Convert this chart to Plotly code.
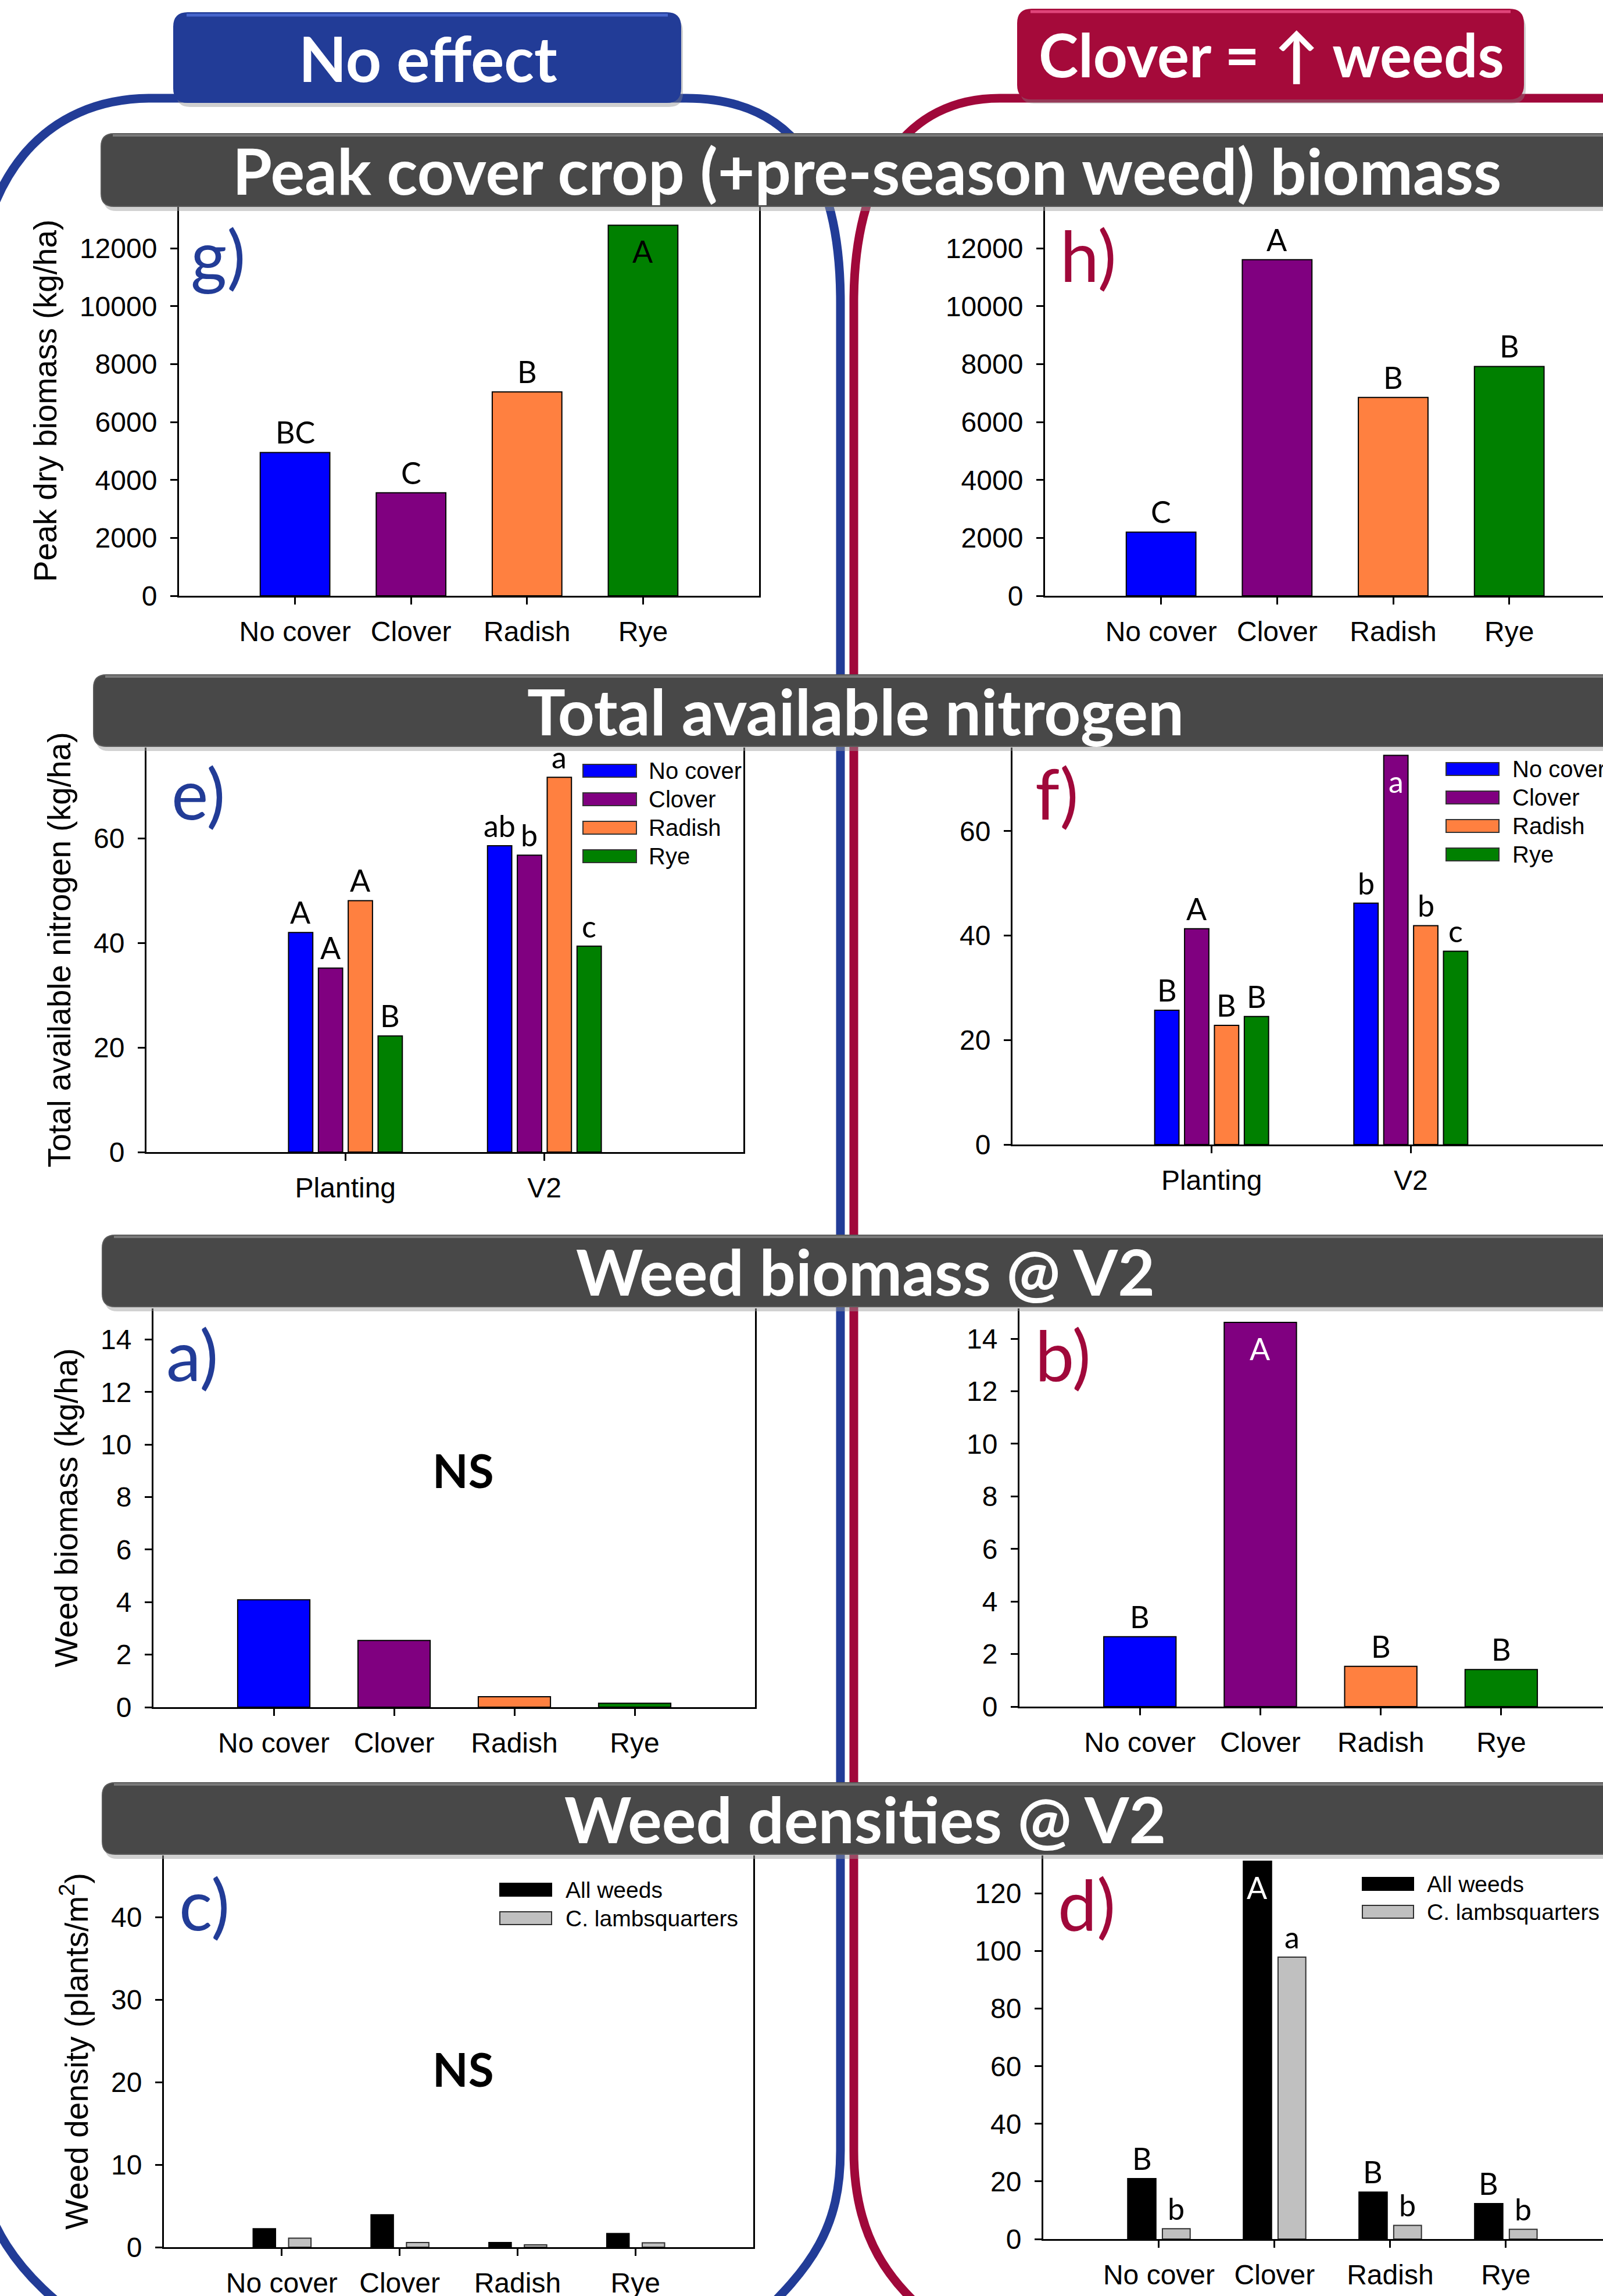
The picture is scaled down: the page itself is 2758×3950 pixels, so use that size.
import plotly.graph_objects as go

# ---------------- data ----------------
covers = ["No cover", "Clover", "Radish", "Rye"]
cover_colors = ["#0000FF", "#800080", "#FF8040", "#008000"]
timings = ["Planting", "V2"]

# g) / h) peak cover crop (+pre-season weed) biomass, kg/ha
peak_g = [4950, 3560, 7040, 12800]
peak_g_letters = ["BC", "C", "B", "A"]
peak_h = [2200, 11610, 6850, 7920]
peak_h_letters = ["C", "A", "B", "B"]

# e) / f) total available nitrogen, kg/ha (one value per cover crop)
nitro_e_planting = [42.0, 35.2, 48.1, 22.2]
nitro_e_v2 = [58.6, 56.8, 71.7, 39.4]
nitro_e_planting_letters = ["A", "A", "A", "B"]
nitro_e_v2_letters = ["ab", "b", "a", "c"]
nitro_f_planting = [25.7, 41.3, 22.8, 24.5]
nitro_f_v2 = [46.2, 74.5, 41.9, 37.0]
nitro_f_planting_letters = ["B", "A", "B", "B"]
nitro_f_v2_letters = ["b", "a", "b", "c"]

# a) / b) weed biomass at V2, kg/ha
weedbio_a = [4.09, 2.54, 0.40, 0.15]
weedbio_b = [2.66, 14.62, 1.53, 1.41]
weedbio_b_letters = ["B", "A", "B", "B"]

# c) / d) weed densities at V2, plants/m2
dens_series = ["All weeds", "C. lambsquarters"]
dens_colors = ["#000000", "#C0C0C0"]
dens_c_all = [2.23, 3.93, 0.57, 1.66]
dens_c_lamb = [1.09, 0.57, 0.28, 0.53]
dens_d_all = [20.97, 131.2, 16.3, 12.3]
dens_d_lamb = [3.6, 97.9, 4.75, 3.36]
dens_d_all_letters = ["B", "A", "B", "B"]
dens_d_lamb_letters = ["b", "a", "b", "b"]

section_titles = ["Peak cover crop (+pre-season weed) biomass", "Total available nitrogen",
                  "Weed biomass @ V2", "Weed densities @ V2"]

# ---------------- style / layout ----------------
W, H = 2758, 3950
BLUE = "#223C97"
CRIMSON = "#A0083A"
BAR_GREY = "#484848"
AXFONT = "Liberation Sans, Arial, sans-serif"
TFONT = "Lato, Open Sans, sans-serif"
TICKFONT = dict(family=AXFONT, size=48, color="black")


def fx(px):
    return px / W


def fy(py):
    return 1 - py / H


def sfx(n):
    return "" if n == 1 else str(n)


fig = go.Figure()
layout = dict(width=W, height=H, margin=dict(l=0, r=0, t=0, b=0, autoexpand=False),
              paper_bgcolor="white", plot_bgcolor="rgba(0,0,0,0)",
              showlegend=False, barmode="overlay")
shapes, anns = [], []

# panel boxes in page pixels: (x0, x1, ytop, ybottom)
panels = {
    "g": dict(n=1, box=(308, 1306, 354, 1025), xr=[-1, 4], yr=[0, 13470], dtick=2000, left=True,
              ytitle="Peak dry biomass (kg/ha)"),
    "h": dict(n=2, box=(1798, 2758, 354, 1025), xr=[-1, 3.808], yr=[0, 13470], dtick=2000, left=False),
    "e": dict(n=3, box=(252, 1279, 1286, 1982), xr=[-1, 2], yr=[0, 77.4], dtick=20, left=True,
              ytitle="Total available nitrogen (kg/ha)"),
    "f": dict(n=4, box=(1742, 2758, 1286, 1969), xr=[-1, 1.965], yr=[0, 76.0], dtick=20, left=False),
    "a": dict(n=5, box=(264, 1299, 2251, 2937), xr=[-1, 4], yr=[0, 15.18], dtick=2, left=True,
              ytitle="Weed biomass (kg/ha)"),
    "b": dict(n=6, box=(1754, 2758, 2251, 2936), xr=[-1, 3.845], yr=[0, 15.15], dtick=2, left=False),
    "c": dict(n=7, box=(282, 1296, 3192, 3866), xr=[-1, 4], yr=[0, 47.5], dtick=10, left=True,
              ytitle="Weed density (plants/m<sup>2</sup>)"),
    "d": dict(n=8, box=(1795, 2758, 3192, 3852), xr=[-1, 3.84], yr=[0, 133.2], dtick=20, left=False),
}

for key, p in panels.items():
    s = sfx(p["n"])
    x0, x1, yt, yb = p["box"]
    layout["xaxis" + s] = dict(domain=[fx(x0), fx(x1)], range=p["xr"], type="category", anchor="y" + s,
                               showline=True, linecolor="black", linewidth=3, ticks="outside",
                               ticklen=12, tickwidth=2.5, tickcolor="black", tickfont=TICKFONT,
                               showgrid=False, zeroline=False, ticklabelstandoff=5, fixedrange=True,
                               automargin=False)
    ya = dict(domain=[fy(yb), fy(yt)], range=p["yr"], anchor="x" + s, dtick=p["dtick"], tick0=0,
              tickformat="d", showline=True, linecolor="black", linewidth=3, ticks="outside", ticklen=12,
              tickwidth=2.5, tickcolor="black", tickfont=TICKFONT, showgrid=False, zeroline=False,
              mirror=p["left"], ticklabelstandoff=13, fixedrange=True, automargin=False)
    if p.get("ytitle"):
        ya["title"] = dict(text=p["ytitle"], font=dict(family=AXFONT, size=55, color="black"), standoff=22)
    layout["yaxis" + s] = ya


def add_letter(n, xpos, val, text, ymax, inside_color="white"):
    s = sfx(n)
    inside = val > 0.94 * ymax
    anns.append(dict(xref="x" + s, yref="y" + s, x=xpos, y=val, text=text, showarrow=False,
                     xanchor="center", yanchor="top" if inside else "bottom",
                     yshift=-12 if inside else 2,
                     font=dict(family=TFONT, size=52, color=inside_color if inside else "black")))


def single_panel(key, values, letters, inside_color="white", name=""):
    p = panels[key]
    s = sfx(p["n"])
    fig.add_trace(go.Bar(x=covers, y=values, width=0.6, name=name, xaxis="x" + s, yaxis="y" + s,
                         marker=dict(color=cover_colors, line=dict(color="black", width=2))))
    if letters:
        for i, (v, t) in enumerate(zip(values, letters)):
            add_letter(p["n"], i, v, t, p["yr"][1], inside_color)


single_panel("g", peak_g, peak_g_letters, inside_color="black", name="Peak biomass")
single_panel("h", peak_h, peak_h_letters, name="Peak biomass")
single_panel("a", weedbio_a, None, name="Weed biomass")
single_panel("b", weedbio_b, weedbio_b_letters, name="Weed biomass")

# nitrogen grouped bars
N_WIDTH, N_SLOT, N_START = 0.122, 0.15, -0.286
for key, plant, v2, lp, lv in [("e", nitro_e_planting, nitro_e_v2, nitro_e_planting_letters, nitro_e_v2_letters),
                               ("f", nitro_f_planting, nitro_f_v2, nitro_f_planting_letters, nitro_f_v2_letters)]:
    p = panels[key]
    s = sfx(p["n"])
    for i, cov in enumerate(covers):
        off = N_START + i * N_SLOT
        yv = [plant[i], v2[i]]
        fig.add_trace(go.Bar(x=timings, y=yv, name=cov, offset=off, width=N_WIDTH,
                             xaxis="x" + s, yaxis="y" + s,
                             marker=dict(color=cover_colors[i], line=dict(color="black", width=2))))
        for j, t in enumerate([lp[i], lv[i]]):
            add_letter(p["n"], j + off + N_WIDTH / 2, yv[j], t, p["yr"][1])

# density grouped bars
for key, alls, lambs, la, ll, geo in [
        ("c", dens_c_all, dens_c_lamb, None, None, ((-0.243, 0.19), (0.058, 0.19))),
        ("d", dens_d_all, dens_d_lamb, dens_d_all_letters, dens_d_lamb_letters, ((-0.27, 0.244), (0.03, 0.24)))]:
    p = panels[key]
    s = sfx(p["n"])
    for k, (vals, lets) in enumerate([(alls, la), (lambs, ll)]):
        off, wd = geo[k]
        fig.add_trace(go.Bar(x=covers, y=vals, name=dens_series[k], offset=off, width=wd,
                             xaxis="x" + s, yaxis="y" + s,
                             marker=dict(color=dens_colors[k],
                                         line=dict(color="black" if k == 0 else "#303030", width=2))))
        if lets:
            for i, (v, t) in enumerate(zip(vals, lets)):
                add_letter(p["n"], i + off + wd / 2, v, t, p["yr"][1])


# ---------------- decorations ----------------
def pt(x, y):
    return f"{fx(x):.5f},{fy(y):.5f}"


# bracket frames
blue_path = ("M " + pt(150, 4000) + " C " + pt(40, 3920) + " " + pt(-45, 3830) + " " + pt(-45, 3650) +
             " L " + pt(-45, 560) + " C " + pt(-45, 300) + " " + pt(80, 169) + " " + pt(260, 169) +
             " L " + pt(1180, 169) + " C " + pt(1370, 169) + " " + pt(1446, 300) + " " + pt(1446, 520) +
             " L " + pt(1446, 3700) + " C " + pt(1446, 3830) + " " + pt(1400, 3900) + " " + pt(1290, 4000))
crim_path = ("M " + pt(2820, 169) + " L " + pt(1720, 169) + " C " + pt(1560, 169) + " " + pt(1469, 300) +
             " " + pt(1469, 520) + " L " + pt(1469, 3700) + " C " + pt(1469, 3850) + " " + pt(1530, 3930) +
             " " + pt(1620, 4000))
shapes.append(dict(type="path", xref="paper", yref="paper", path=blue_path,
                   line=dict(color=BLUE, width=15), layer="above"))
shapes.append(dict(type="path", xref="paper", yref="paper", path=crim_path,
                   line=dict(color=CRIMSON, width=15), layer="above"))


def rounded(x0, y0, x1, y1, r, right_round=True):
    if right_round:
        return ("M " + pt(x0 + r, y0) + " L " + pt(x1 - r, y0) + " Q " + pt(x1, y0) + " " + pt(x1, y0 + r) +
                " L " + pt(x1, y1 - r) + " Q " + pt(x1, y1) + " " + pt(x1 - r, y1) +
                " L " + pt(x0 + r, y1) + " Q " + pt(x0, y1) + " " + pt(x0, y1 - r) +
                " L " + pt(x0, y0 + r) + " Q " + pt(x0, y0) + " " + pt(x0 + r, y0) + " Z")
    return ("M " + pt(x0 + r, y0) + " L " + pt(x1, y0) + " L " + pt(x1, y1) + " L " + pt(x0 + r, y1) +
            " Q " + pt(x0, y1) + " " + pt(x0, y1 - r) + " L " + pt(x0, y0 + r) +
            " Q " + pt(x0, y0) + " " + pt(x0 + r, y0) + " Z")


# section title bars
bars_px = [(174, 230, 355, 1491, 292), (161, 1161, 1284, 1472, 1222),
           (176, 2125, 2248, 1489, 2186), (176, 3067, 3190, 1489, 3128)]
for (x0, y0, y1, tx, ty), title in zip(bars_px, section_titles):
    shapes.append(dict(type="path", xref="paper", yref="paper", path=rounded(x0 + 4, y0 + 8, 2840, y1 + 8, 22, False),
                       fillcolor="#999999", opacity=0.45, line=dict(width=0), layer="above"))
    shapes.append(dict(type="path", xref="paper", yref="paper", path=rounded(x0, y0, 2840, y1, 22, False),
                       fillcolor=BAR_GREY, line=dict(color="#5a5a5a", width=2), layer="above"))
    shapes.append(dict(type="path", xref="paper", yref="paper",
                       path="M " + pt(x0 + 20, y0 + 3) + " L " + pt(2840, y0 + 3),
                       line=dict(color="#7a7a7a", width=4), layer="above"))
    anns.append(dict(xref="paper", yref="paper", x=fx(tx), y=fy(ty), text="<b>" + title + "</b>",
                     showarrow=False, xanchor="center", yanchor="middle",
                     font=dict(family=TFONT, size=110, color="white")))

# header boxes
for (x0, y0, x1, y1, col, hi, txt, tx, ty, fs) in [
        (299, 22, 1171, 176, BLUE, "#4766cc", "No effect", 736, 99, 107),
        (1751, 16, 2621, 170, "#A50A3A", "#e0457a", "Clover = \u2191 weeds", 2187, 93, 103)]:
    shapes.append(dict(type="path", xref="paper", yref="paper", path=rounded(x0 + 4, y0 + 8, x1 + 4, y1 + 8, 24),
                       fillcolor="#888888", opacity=0.4, line=dict(width=0), layer="above"))
    shapes.append(dict(type="path", xref="paper", yref="paper", path=rounded(x0, y0, x1, y1, 24),
                       fillcolor=col, line=dict(color=col, width=2), layer="above"))
    shapes.append(dict(type="path", xref="paper", yref="paper",
                       path="M " + pt(x0 + 22, y0 + 4) + " L " + pt(x1 - 22, y0 + 4),
                       line=dict(color=hi, width=5), layer="above"))
    anns.append(dict(xref="paper", yref="paper", x=fx(tx), y=fy(ty), text="<b>" + txt + "</b>",
                     showarrow=False, xanchor="center", yanchor="middle",
                     font=dict(family=TFONT, size=fs, color="white")))

# panel letters
for lab, x, y, col in [("g)", 326, 438, BLUE), ("h)", 1822, 438, CRIMSON), ("e)", 293, 1364, BLUE),
                       ("f)", 1779, 1364, CRIMSON), ("a)", 284, 2330, BLUE), ("b)", 1779, 2330, CRIMSON),
                       ("c)", 306, 3275, BLUE), ("d)", 1818, 3275, CRIMSON)]:
    anns.append(dict(xref="paper", yref="paper", x=fx(x), y=fy(y), text=lab, showarrow=False,
                     xanchor="left", yanchor="middle", font=dict(family=TFONT, size=120, color=col)))

# NS labels
for x, y in [(797, 2529), (797, 3559)]:
    anns.append(dict(xref="paper", yref="paper", x=fx(x), y=fy(y), text="<b>NS</b>", showarrow=False,
                     xanchor="center", yanchor="middle", font=dict(family=TFONT, size=80, color="black")))


# manual legends
def legend(names, colors, edges, sx0, sx1, tx, y0, dy, size):
    for i, (nm, c) in enumerate(zip(names, colors)):
        yc = y0 + i * dy
        shapes.append(dict(type="rect", xref="paper", yref="paper", x0=fx(sx0), x1=fx(sx1),
                           y0=fy(yc + 11), y1=fy(yc - 11), fillcolor=c,
                           line=dict(color=edges[i], width=2), layer="above"))
        anns.append(dict(xref="paper", yref="paper", x=fx(tx), y=fy(yc), text=nm, showarrow=False,
                         xanchor="left", yanchor="middle", font=dict(family=AXFONT, size=size, color="black")))


legend(covers, cover_colors, ["#333333"] * 4, 1003, 1095, 1114, 1326, 49, 40)
legend(covers, cover_colors, ["#333333"] * 4, 2488, 2579, 2600, 1323, 49, 40)
legend(dens_series, dens_colors, ["black", "#303030"], 860, 949, 971, 3251, 49, 39)
legend(dens_series, dens_colors, ["black", "#303030"], 2344, 2432, 2453, 3241, 48, 39)

layout["shapes"] = shapes
layout["annotations"] = anns
fig.update_layout(**layout)

fig.write_html("out.html", config={"displayModeBar": False},
               post_script="document.body.style.margin='0';")
